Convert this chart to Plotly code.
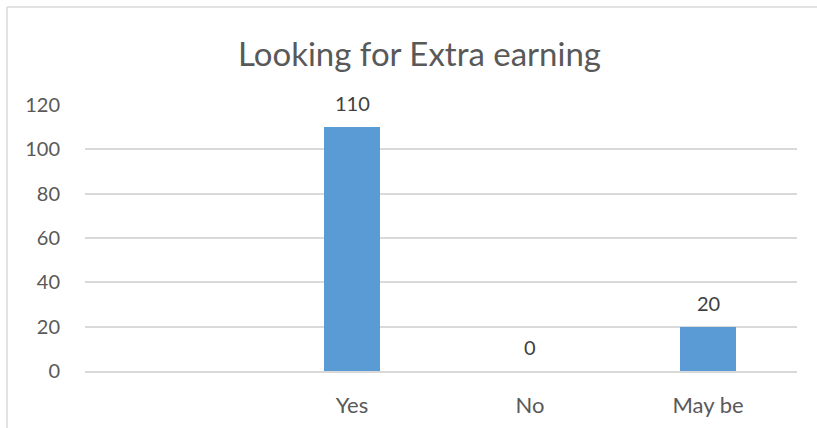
import plotly.graph_objects as go

# Survey responses: looking for extra earning
categories = ["Yes", "No", "May be"]
counts = [110, 0, 20]
y_ticks = [0, 20, 40, 60, 80, 100, 120]

BAR_COLOR = "#5B9BD5"
TEXT_COLOR = "#595959"
LABEL_COLOR = "#404040"
GRID_COLOR = "#d9d9d9"
FONT = "Lato"

W, H = 817, 428
ML, MR, MT, MB = 85, 20, 105, 57
PW, PH = W - ML - MR, H - MT - MB


def px_to_paper_x(px):
    return (px - ML) / PW


def px_to_paper_y(py):
    return (H - MB - py) / PH


fig = go.Figure()
fig.add_trace(go.Bar(
    x=categories,
    y=counts,
    width=0.31,
    marker=dict(color=BAR_COLOR, line=dict(width=0)),
    hoverinfo="x+y",
))

# value labels above each bar
for cat, val in zip(categories, counts):
    fig.add_annotation(
        x=cat, y=val, xref="x", yref="y",
        text=str(val), showarrow=False,
        yanchor="bottom", yshift=10,
        font=dict(family=FONT, size=20, color=LABEL_COLOR),
    )

# chart title
fig.add_annotation(
    x=px_to_paper_x(419), y=px_to_paper_y(53), xref="paper", yref="paper",
    text="Looking for Extra earning", showarrow=False,
    xanchor="center", yanchor="middle",
    font=dict(family=FONT, size=33, color=TEXT_COLOR),
)

# chart frame (left and top edges)
frame = dict(color=GRID_COLOR, width=1.5)
fig.add_shape(type="line", xref="paper", yref="paper",
              x0=px_to_paper_x(7), x1=px_to_paper_x(7),
              y0=px_to_paper_y(7), y1=px_to_paper_y(440), line=frame)
fig.add_shape(type="line", xref="paper", yref="paper",
              x0=px_to_paper_x(7), x1=px_to_paper_x(830),
              y0=px_to_paper_y(7), y1=px_to_paper_y(7), line=frame)

fig.update_layout(
    width=W, height=H,
    margin=dict(l=ML, r=MR, t=MT, b=MB, pad=0, autoexpand=False),
    paper_bgcolor="white", plot_bgcolor="white",
    showlegend=False,
    bargap=0,
    font=dict(family=FONT, color=TEXT_COLOR),
    xaxis=dict(
        type="category",
        range=[-1.5, 2.5],
        automargin=False,
        showgrid=False,
        showline=True, linecolor=GRID_COLOR, linewidth=1.5,
        ticks="outside", ticklen=14, tickcolor="rgba(0,0,0,0)",
        tickfont=dict(family=FONT, size=22, color=TEXT_COLOR),
        zeroline=False,
        fixedrange=True,
    ),
    yaxis=dict(
        range=[0, 120],
        automargin=False,
        tickvals=y_ticks,
        ticktext=[str(v) for v in y_ticks],
        showgrid=True, gridcolor=GRID_COLOR, gridwidth=1.5,
        zeroline=False, showline=False,
        ticks="outside", ticklen=20, tickcolor="rgba(0,0,0,0)",
        tickfont=dict(family=FONT, size=20, color=TEXT_COLOR),
        fixedrange=True,
    ),
)

fig.write_html("out.html")
